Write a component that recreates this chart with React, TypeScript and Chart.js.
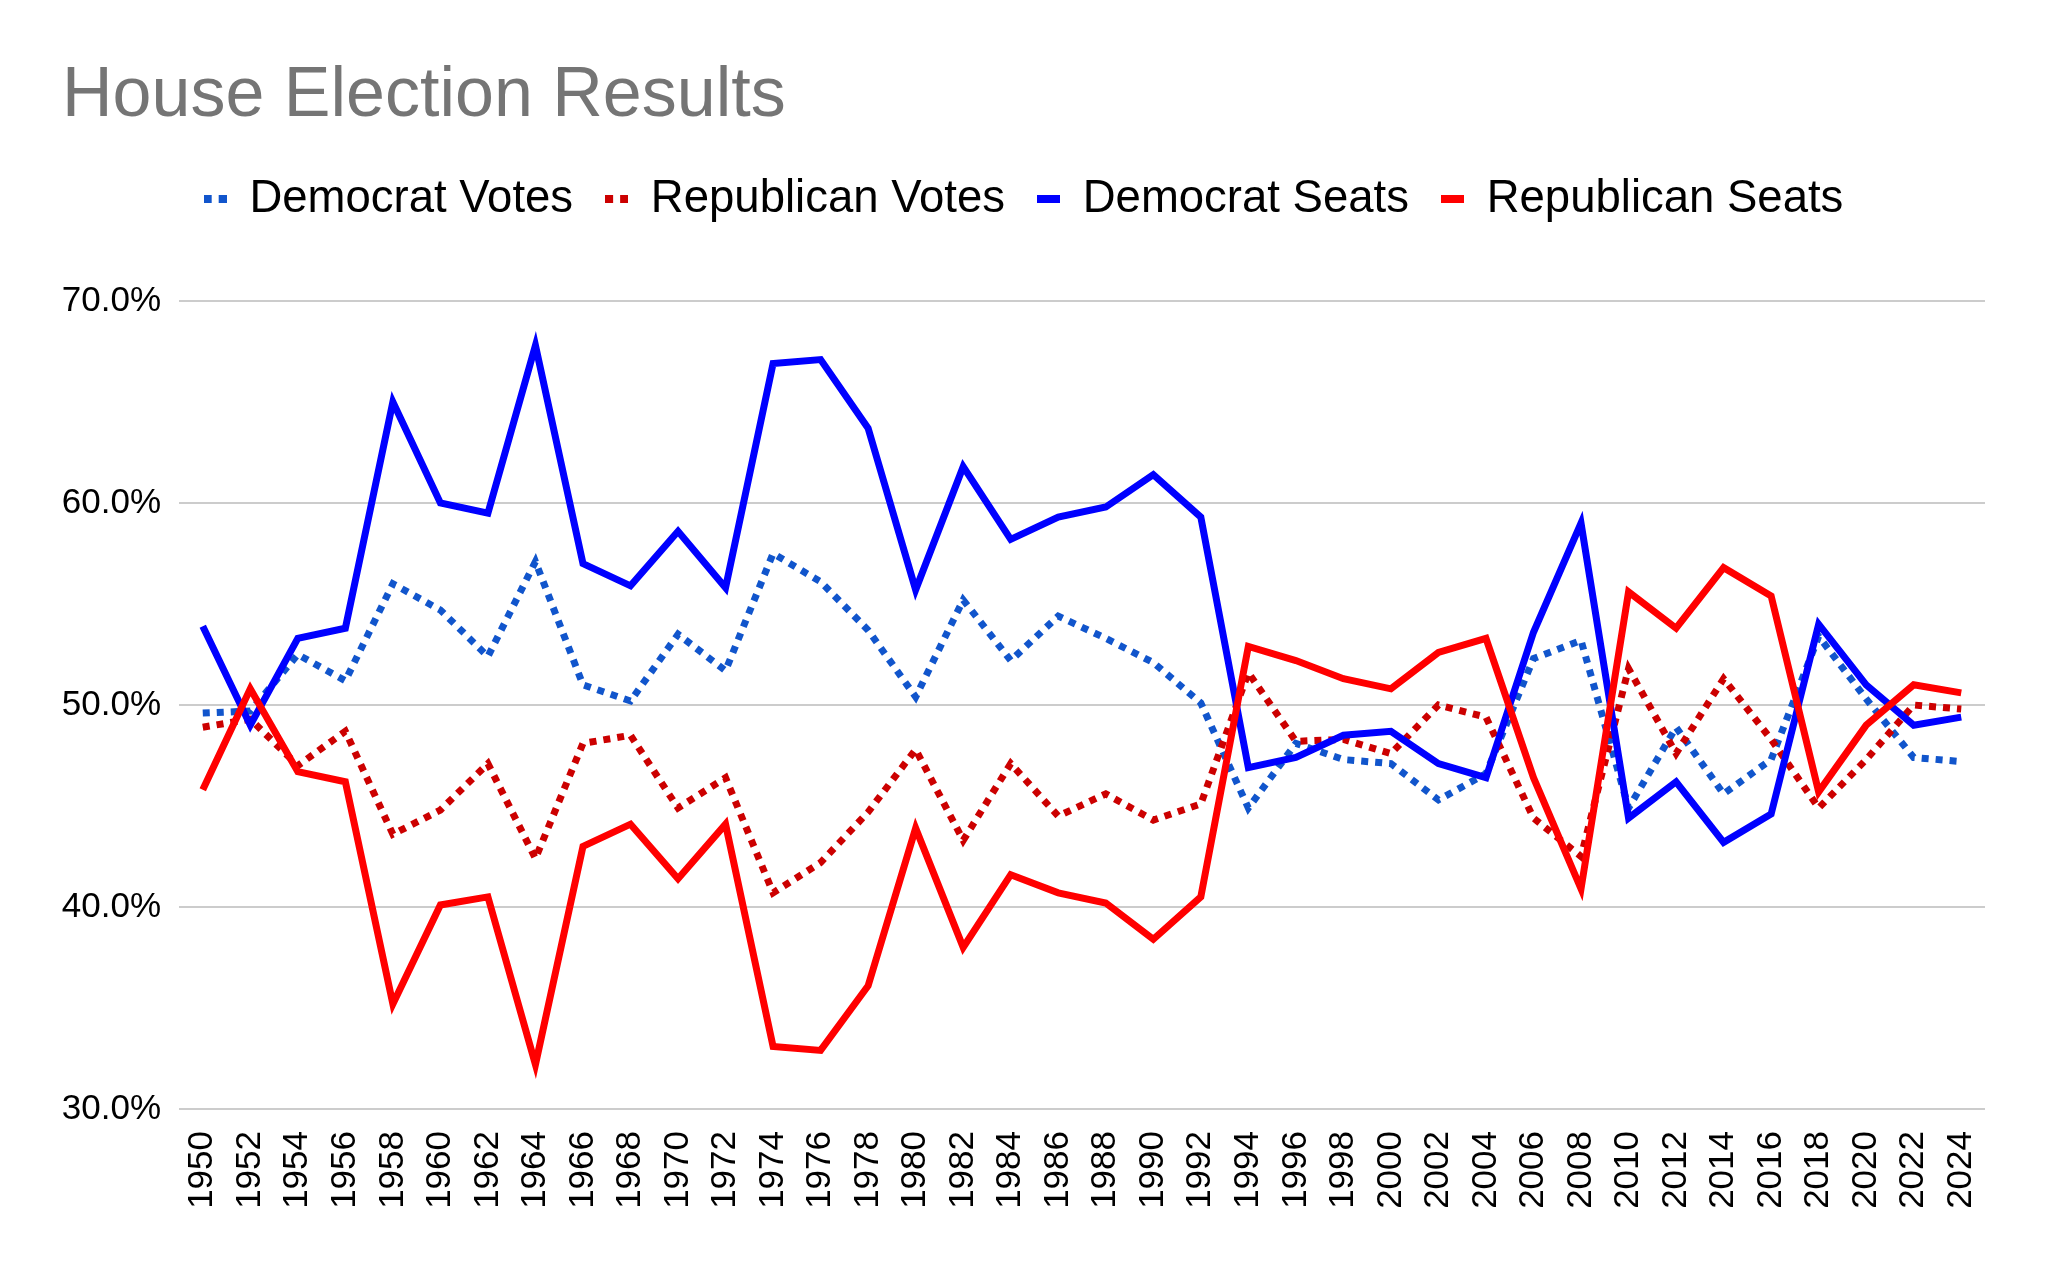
import React, { useEffect, useRef } from "react";
import { Chart, registerables } from "chart.js";

Chart.register(...registerables);

const years = [
  "1950", "1952", "1954", "1956", "1958", "1960", "1962", "1964", "1966", "1968",
  "1970", "1972", "1974", "1976", "1978", "1980", "1982", "1984", "1986", "1988",
  "1990", "1992", "1994", "1996", "1998", "2000", "2002", "2004", "2006", "2008",
  "2010", "2012", "2014", "2016", "2018", "2020", "2022", "2024",
];

const democratVotes = [
  49.6, 49.7, 52.5, 51.2, 56.0, 54.7, 52.4, 57.1, 51.0, 50.2,
  53.5, 51.7, 57.5, 56.1, 53.7, 50.4, 55.2, 52.2, 54.4, 53.3,
  52.1, 50.1, 44.9, 48.1, 47.3, 47.1, 45.3, 46.6, 52.3, 53.2,
  44.9, 48.9, 45.6, 47.3, 53.4, 50.3, 47.4, 47.2,
];

const republicanVotes = [
  48.9, 49.3, 47.0, 48.7, 43.6, 44.8, 47.1, 42.4, 48.1, 48.5,
  44.9, 46.4, 40.7, 42.2, 44.7, 47.8, 43.3, 47.1, 44.5, 45.6,
  44.3, 45.1, 51.6, 48.2, 48.3, 47.6, 50.0, 49.4, 44.4, 42.5,
  51.8, 47.6, 51.3, 48.3, 44.9, 47.3, 50.0, 49.8,
];

const democratSeats = [
  53.9, 49.0, 53.3, 53.8, 65.0, 60.0, 59.5, 67.8, 57.0, 55.9,
  58.6, 55.8, 66.9, 67.1, 63.7, 55.7, 61.8, 58.2, 59.3, 59.8,
  61.4, 59.3, 46.9, 47.4, 48.5, 48.7, 47.1, 46.4, 53.6, 59.0,
  44.4, 46.2, 43.2, 44.6, 54.0, 51.0, 49.0, 49.4,
];

const republicanSeats = [
  45.8, 50.8, 46.7, 46.2, 35.2, 40.1, 40.5, 32.2, 43.0, 44.1,
  41.4, 44.1, 33.1, 32.9, 36.1, 43.9, 38.0, 41.6, 40.7, 40.2,
  38.4, 40.5, 52.9, 52.2, 51.3, 50.8, 52.6, 53.3, 46.4, 40.9,
  55.6, 53.8, 56.8, 55.4, 45.7, 49.0, 51.0, 50.6,
];

const seriesNames = ["Democrat Votes", "Republican Votes", "Democrat Seats", "Republican Seats"];
const seriesColors = ["#1155cc", "#cc0000", "#0000ff", "#ff0000"];
const seriesDotted = [true, true, false, false];

const FONT = "'Liberation Sans', Arial, Helvetica, sans-serif";

function makeMarker(color: string, dotted: boolean): HTMLCanvasElement {
  const c = document.createElement("canvas");
  c.width = 23;
  c.height = 8;
  const g = c.getContext("2d");
  if (g) {
    g.fillStyle = color;
    if (dotted) {
      g.fillRect(0, 0, 8, 8);
      g.fillRect(15, 0, 8, 8);
    } else {
      g.fillRect(0, 0, 23, 8);
    }
  }
  return c;
}

export default function App() {
  const canvasRef = useRef<HTMLCanvasElement | null>(null);

  useEffect(() => {
    const canvas = canvasRef.current;
    if (!canvas) return;

    const values = [democratVotes, republicanVotes, democratSeats, republicanSeats];
    const orders = [4, 3, 2, 1];
    const markers = seriesNames.map((_, i) => makeMarker(seriesColors[i], seriesDotted[i]));

    const legendMargin = {
      id: "legendMargin",
      beforeInit(chart: any) {
        const legend = chart.legend;
        if (!legend) return;
        const origFit = legend.fit;
        legend.fit = function () {
          origFit.call(this);
          this.height += 69.25;
        };
      },
    };

    const chart = new Chart(canvas, {
      type: "line",
      data: {
        labels: years,
        datasets: values.map((v, i) => ({
          label: seriesNames[i],
          data: v,
          borderColor: seriesColors[i],
          backgroundColor: seriesColors[i],
          borderWidth: 7,
          borderDash: seriesDotted[i] ? [7, 7] : [],
          borderCapStyle: "butt" as const,
          borderJoinStyle: "miter" as const,
          pointRadius: 0,
          pointHoverRadius: 0,
          tension: 0,
          fill: false,
          order: orders[i],
        })),
      },
      options: {
        animation: false,
        responsive: true,
        maintainAspectRatio: false,
        devicePixelRatio: 1,
        layout: { padding: { left: 62, right: 63, top: 0, bottom: 0 } },
        plugins: {
          title: {
            display: true,
            text: "House Election Results",
            align: "start",
            color: "#757575",
            font: { family: FONT, size: 70, weight: "normal", lineHeight: 1.2 },
            padding: { top: 54.5, bottom: 5.75 },
          },
          legend: {
            display: true,
            position: "top",
            align: "center",
            labels: {
              usePointStyle: true,
              pointStyleWidth: 23,
              padding: 32,
              color: "#1a1a1a",
              font: { family: FONT, size: 45.5 },
              generateLabels: () =>
                seriesNames.map((name, i) => ({
                  text: name,
                  fillStyle: seriesColors[i],
                  strokeStyle: seriesColors[i],
                  lineWidth: 0,
                  pointStyle: markers[i],
                  hidden: false,
                  datasetIndex: i,
                })),
            },
          },
          tooltip: { enabled: false },
        },
        scales: {
          x: {
            type: "category",
            offset: true,
            grid: { display: false, drawTicks: false },
            border: { display: false },
            ticks: {
              autoSkip: false,
              minRotation: 90,
              maxRotation: 90,
              padding: 22,
              color: "#000000",
              font: { family: FONT, size: 35 },
            },
            afterFit(scale: any) {
              scale.height = 158;
            },
          },
          y: {
            min: 30,
            max: 70,
            grid: { color: "#cccccc", lineWidth: 2, drawTicks: false },
            border: { display: false },
            ticks: {
              stepSize: 10,
              padding: 18,
              color: "#000000",
              font: { family: FONT, size: 35 },
              callback: (v: any) => Number(v).toFixed(1) + "%",
            },
            afterFit(scale: any) {
              scale.width = 117;
            },
          },
        },
      },
      plugins: [legendMargin],
    } as any);

    return () => {
      chart.destroy();
    };
  }, []);

  return (
    <div style={{ position: "absolute", left: 0, top: 0, width: "2048px", height: "1267px", background: "#ffffff" }}>
      <canvas ref={canvasRef} style={{ width: "100%", height: "100%", display: "block" }} />
    </div>
  );
}
